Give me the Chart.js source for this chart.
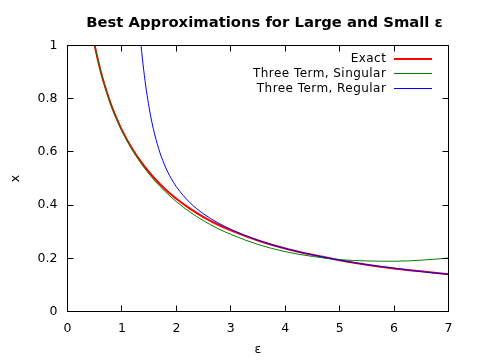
<!DOCTYPE html>
<html><head><meta charset="utf-8">
<script src="https://cdn.jsdelivr.net/npm/chart.js@4.4.1/dist/chart.umd.min.js"></script>
<style>html,body{margin:0;padding:0;background:#fff}</style>
</head><body>
<canvas id="c" width="480" height="360"></canvas>
<script>
const titleText = 'Best Approximations for Large and Small ε';
const xTicks = [0, 1, 2, 3, 4, 5, 6, 7];
const yTicks = [0, 0.2, 0.4, 0.6, 0.8, 1];

const epsExact = [0.4,0.45,0.5,0.6,0.7,0.8,0.9,1.0,1.2,1.4,1.6,1.8,2.0,2.25,2.5,2.75,3.0,3.5,4.0,4.5,5.0,5.5,6.0,6.5,7.0];
const xExact   = [1.115,1.053,1.000,0.911,0.839,0.778,0.727,0.682,0.608,0.549,0.500,0.459,0.424,0.387,0.355,0.328,0.305,0.267,0.237,0.213,0.193,0.176,0.162,0.151,0.140];
const xSingular= [1.114,1.053,0.999,0.910,0.837,0.776,0.724,0.679,0.604,0.543,0.492,0.450,0.413,0.374,0.341,0.313,0.290,0.252,0.225,0.207,0.195,0.190,0.189,0.193,0.201];

const epsRegular = [1.25,1.3,1.35,1.4,1.45,1.5,1.55,1.6,1.7,1.8,1.9,2.0,2.25,2.5,2.75,3.0,3.5,4.0,4.5,5.0,5.5,6.0,6.5,7.0];
const xRegular   = [1.271,1.122,1.003,0.908,0.830,0.766,0.712,0.667,0.596,0.543,0.502,0.469,0.409,0.367,0.335,0.309,0.268,0.237,0.213,0.193,0.176,0.163,0.150,0.140];

const seriesNames = ['Exact', 'Three Term, Singular', 'Three Term, Regular'];

const pts = (xs, ys) => xs.map((v, i) => ({x: v, y: ys[i]}));
const FONT = '"DejaVu Sans", "Liberation Sans", sans-serif';

const framePlugin = {
  id: 'frame',
  afterDatasetsDraw(chart) {
    const {ctx, chartArea: a, scales} = chart;
    ctx.save();
    ctx.strokeStyle = '#000';
    ctx.lineWidth = 1;
    ctx.beginPath();
    xTicks.forEach(v => {
      const p = Math.round(scales.x.getPixelForValue(v) - 0.5) + 0.5;
      ctx.moveTo(p, a.bottom); ctx.lineTo(p, a.bottom - 6);
      ctx.moveTo(p, a.top); ctx.lineTo(p, a.top + 6);
    });
    yTicks.forEach(v => {
      const p = Math.round(scales.y.getPixelForValue(v) - 0.5) + 0.5;
      ctx.moveTo(a.left, p); ctx.lineTo(a.left + 6, p);
      ctx.moveTo(a.right, p); ctx.lineTo(a.right - 6, p);
    });
    ctx.stroke();
    ctx.strokeRect(a.left, a.top, a.right - a.left, a.bottom - a.top);

    // legend
    ctx.font = '12px ' + FONT;
    ctx.letterSpacing = '0.45px';
    ctx.textAlign = 'right';
    ctx.textBaseline = 'middle';
    const rowY = [58.7, 73.3, 88];
    chart.data.datasets.forEach((ds, i) => {
      const y = rowY[i];
      ctx.fillStyle = '#000';
      ctx.fillText(ds.label, 386.3, y + 0.5);
      ctx.strokeStyle = ds.borderColor;
      ctx.lineWidth = ds.borderWidth;
      const ly = ds.borderWidth === 1 ? Math.floor(y) + 0.5 : Math.round(y);
      ctx.beginPath();
      ctx.moveTo(394, ly);
      ctx.lineTo(432, ly);
      ctx.stroke();
    });

    // title
    ctx.fillStyle = '#000';
    ctx.font = 'bold 14.8px ' + FONT;
    ctx.letterSpacing = '0px';
    ctx.textAlign = 'center';
    ctx.fillText(titleText, 264.5, 23.5);
    ctx.restore();
  }
};

new Chart(document.getElementById('c'), {
  type: 'line',
  data: {
    datasets: [
      {label: seriesNames[0], data: pts(epsExact, xExact), borderColor: '#ff0000', borderWidth: 2, order: 3},
      {label: seriesNames[1], data: pts(epsExact, xSingular), borderColor: '#008000', borderWidth: 1, order: 2},
      {label: seriesNames[2], data: pts(epsRegular, xRegular), borderColor: '#0000ff', borderWidth: 1, order: 1}
    ]
  },
  options: {
    responsive: false,
    animation: false,
    devicePixelRatio: 1,
    layout: {padding: {top: 45.5, right: 31.5, left: 0, bottom: 0}},
    elements: {point: {radius: 0}, line: {cubicInterpolationMode: 'monotone', fill: false}},
    plugins: {legend: {display: false}, title: {display: false}, tooltip: {enabled: false}},
    scales: {
      x: {
        type: 'linear', min: 0, max: 7,
        afterBuildTicks(s) { s.ticks = xTicks.map(v => ({value: v})); },
        ticks: {padding: 10, color: '#000', maxRotation: 0, font: {family: FONT, size: 12.5}, callback: v => String(v)},
        grid: {display: false, drawTicks: false},
        border: {display: false},
        title: {display: true, text: 'ε', color: '#000', font: {family: FONT, size: 12.5}, padding: {top: 0, bottom: 3}},
        afterFit(s) { s.height = 48.5; }
      },
      y: {
        type: 'linear', min: 0, max: 1,
        afterBuildTicks(s) { s.ticks = yTicks.map(v => ({value: v})); },
        ticks: {padding: 10, color: '#000', font: {family: FONT, size: 12.5}, callback: v => String(v)},
        grid: {display: false, drawTicks: false},
        border: {display: false},
        title: {display: true, text: 'x', color: '#000', font: {family: FONT, size: 12.5}, padding: {top: 8, bottom: 0}},
        afterFit(s) { s.width = 67.5; }
      }
    }
  },
  plugins: [framePlugin]
});
</script>
</body></html>
